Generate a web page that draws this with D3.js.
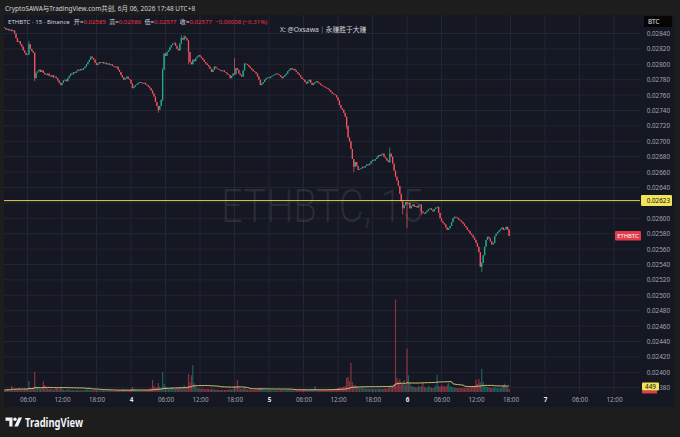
<!DOCTYPE html>
<html>
<head>
<meta charset="utf-8">
<script src="https://cdn.jsdelivr.net/npm/d3@7"></script>
<style>
html, body { margin: 0; padding: 0; background: #1d1d1d; }
svg { display: block; }
text { font-family: "Noto Sans", "Noto Sans CJK SC", sans-serif; }
</style>
</head>
<body>
<svg id="chart" width="680" height="437"></svg>
<script>
const svg = d3.select("#chart");
const width = 680;
const height = 437;

const panel = { L: 4, R: 674, T: 15, B: 407 };
const plot = { L: 4, R: 640, T: 15, B: 394 };

// ---- DATA ---- //

// 15m bars counted from 6月3日 00:00, first visible one is bar 8
const startTime = new Date(2026, 5, 3, 0, 0);
const endTime = new Date(2026, 5, 7, 0, 0);
const firstBar = 8;
const firstOpen = 2848;

// closes in units of 0.00001 BTC
const closes = [
    2847,2845,2846,2844,2845,2843,2844,2840,2834,2829,2830,2826,2823,2818,2815,2812,
    2813,2826,2820,2817,2815,2782,2789,2791,2793,2790,2792,2789,2787,2786,2788,2785,
    2784,2786,2783,2784,2782,2779,2776,2773,2776,2779,2780,2778,2782,2785,2788,2787,
    2790,2789,2791,2793,2792,2794,2793,2795,2797,2800,2803,2806,2810,2808,2806,2802,
    2799,2801,2803,2802,2803,2801,2802,2800,2801,2799,2800,2798,2797,2796,2797,2793,
    2790,2786,2783,2780,2782,2784,2781,2780,2775,2769,2771,2773,2774,2776,2777,2776,
    2775,2776,2774,2773,2771,2769,2766,2762,2758,2751,2746,2741,2746,2754,2793,2814,
    2811,2816,2818,2822,2825,2827,2828,2824,2820,2818,2827,2834,2832,2836,2834,2831,
    2816,2803,2800,2806,2804,2808,2810,2812,2810,2808,2806,2803,2801,2799,2797,2794,
    2790,2793,2797,2795,2794,2793,2792,2791,2792,2790,2789,2787,2786,2782,2785,2788,
    2787,2795,2793,2788,2786,2784,2792,2801,2800,2799,2797,2795,2793,2791,2790,2788,
    2784,2780,2773,2775,2777,2780,2782,2783,2782,2784,2785,2786,2787,2788,2787,2786,
    2784,2782,2784,2786,2788,2791,2793,2795,2793,2794,2792,2790,2788,2786,2783,2781,
    2780,2777,2775,2778,2780,2776,2773,2775,2777,2778,2776,2775,2773,2772,2771,2770,
    2769,2768,2766,2764,2762,2761,2760,2757,2753,2747,2743,2741,2737,2732,2720,2705,
    2700,2690,2677,2667,2673,2668,2663,2664,2665,2667,2666,2668,2670,2669,2671,2674,
    2676,2675,2677,2679,2682,2681,2683,2684,2680,2678,2675,2673,2684,2680,2671,2662,
    2654,2649,2642,2632,2622,2613,2617,2621,2619,2620,2613,2616,2618,2615,2616,2614,
    2617,2618,2609,2607,2606,2608,2610,2612,2613,2611,2609,2612,2614,2615,2607,2600,
    2596,2594,2592,2588,2585,2587,2590,2595,2600,2602,2601,2600,2598,2597,2595,2593,
    2590,2588,2585,2583,2580,2578,2575,2572,2568,2563,2556,2537,2542,2552,2563,2572,
    2576,2574,2570,2566,2568,2577,2580,2582,2584,2586,2588,2585,2586,2589,2585,2577
];

// volume per bar (ETH)
const volumes = [
    320,280,410,350,260,900,380,450,520,390,610,480,350,420,560,470,
    510,1650,620,540,700,3000,820,640,560,480,690,1600,1000,720,580,450,
    520,430,380,460,610,540,390,800,460,350,280,330,410,370,290,260,
    310,240,280,350,220,260,300,240,330,380,420,350,300,270,240,310,
    280,230,260,210,250,290,230,200,260,240,280,220,190,250,230,270,
    300,260,340,410,280,360,320,290,380,750,420,350,300,270,240,290,
    260,310,280,340,380,420,560,1800,900,640,720,1350,800,560,3000,1200,
    860,640,580,520,700,610,540,480,620,560,730,680,590,1000,720,640,
    2700,1400,2500,4000,1300,820,640,560,510,480,530,460,420,500,440,390,
    520,460,380,350,410,330,300,360,280,320,350,290,380,420,360,450,
    900,620,1800,740,520,480,560,640,480,400,360,420,330,300,380,350,
    420,510,620,480,400,350,320,290,310,260,280,240,300,270,250,230,
    280,310,260,240,290,330,360,300,270,250,310,280,340,300,360,320,
    380,420,350,310,380,440,400,350,900,420,360,320,300,340,380,350,
    330,370,410,380,450,420,480,520,610,700,660,740,820,900,2100,2250,
    1600,4350,1500,1000,1050,820,760,640,580,700,620,540,500,560,480,520,
    460,500,440,480,520,560,490,450,520,600,480,640,900,760,820,1200,
    13800,2100,1600,1950,1400,1200,1800,1100,6450,2500,1300,900,820,760,700,680,
    900,720,860,1400,760,680,620,900,700,640,580,720,1000,2550,880,760,
    1050,820,900,760,1100,1400,880,760,700,640,620,580,560,600,540,620,
    580,660,620,700,680,740,820,900,1800,1200,1950,1400,3450,1500,960,820,
    760,700,640,600,680,720,560,620,540,600,700,1050,1250,820,640,449
];

// [bar, high, low] for the bars with visible wicks
const wicks = [
    [25, 2830, 2812], [29, 2815, 2778], [115, 2746, 2737], [118, 2795, 2752],
    [131, 2838, 2826], [133, 2838, 2831], [136, 2831, 2800], [168, 2808, 2786],
    [246, 2732, 2716], [251, 2677, 2660], [276, 2692, 2672], [285, 2622, 2605],
    [288, 2621, 2587], [298, 2618, 2604], [340, 2543, 2530], [359, 2586, 2577]
];

const priceTicks = [
    0.0284, 0.0282, 0.0280, 0.0278, 0.0276, 0.0274, 0.0272, 0.0270, 0.0268, 0.0266,
    0.0264, 0.0262, 0.0260, 0.0258, 0.0256, 0.0254, 0.0252, 0.0250, 0.0248, 0.0246,
    0.0244, 0.0242, 0.0240, 0.0238
];
const alertPrice = 0.02623;
const maLength = 40;

const bars = closes.map((c, k) => {
    const i = firstBar + k;
    const open = k === 0 ? firstOpen : closes[k - 1];
    const w = wicks.find(d => d[0] === i);
    let hi = Math.max(open, c), lo = Math.min(open, c);
    if (w) { hi = Math.max(hi, w[1]); lo = Math.min(lo, w[2]); }
    return {
        "Date": d3.timeMinute.offset(startTime, i * 15),
        "Open": open / 1e5, "High": hi / 1e5, "Low": lo / 1e5, "Close": c / 1e5,
        "Volume": volumes[k]
    };
});
bars.forEach((b, k) => {
    const win = bars.slice(Math.max(0, k - maLength + 1), k + 1);
    b.MA = d3.mean(win, d => d.Volume);
});

// ---- COLOURS ---- //
const up = "#22ab94";
const down = "#f7525f";
const axisText = "#a3a6af";
const grid = "#222533";

// ---- FRAME ---- //
svg.append("rect").attr("width", width).attr("height", height).attr("fill", "#1d1d1d");
svg.append("rect")
    .attr("x", panel.L).attr("y", panel.T)
    .attr("width", panel.R - panel.L).attr("height", panel.B - panel.T)
    .attr("fill", "#151722");

// ---- SCALES ---- //
const xScale = d3.scaleTime().domain([startTime, endTime]).range([-7, 545]);
const yScale = d3.scaleLinear().domain([0.0284, 0.0238]).range([33.5, 387.7]);
const vScale = d3.scaleLinear().domain([0, 14000]).range([392, 298]);

const timeTicks = d3.timeHour.every(6).range(startTime, d3.timeDay.offset(endTime, 1))
    .filter(d => xScale(d) > plot.L && xScale(d) < plot.R);

// ---- GRID ---- //
svg.append("g").selectAll("line").data(timeTicks).join("line")
    .attr("x1", d => xScale(d)).attr("x2", d => xScale(d))
    .attr("y1", plot.T).attr("y2", plot.B)
    .attr("stroke", grid).attr("stroke-width", 1);
svg.append("g").selectAll("line").data(priceTicks).join("line")
    .attr("x1", plot.L).attr("x2", plot.R)
    .attr("y1", d => yScale(d)).attr("y2", d => yScale(d))
    .attr("stroke", grid).attr("stroke-width", 1);

// ---- WATERMARK ---- //
svg.append("text")
    .attr("x", 221).attr("y", 222)
    .attr("font-size", 46).attr("font-weight", 300)
    .attr("textLength", 202).attr("lengthAdjust", "spacingAndGlyphs")
    .attr("fill", "rgba(255,255,255,0.09)")
    .style("font-family", "Roboto, 'Noto Sans', sans-serif")
    .text("ETHBTC, 15");

svg.append("clipPath").attr("id", "clip")
    .append("rect").attr("x", plot.L).attr("y", plot.T)
    .attr("width", plot.R - plot.L).attr("height", plot.B - plot.T);

const main = svg.append("g").attr("clip-path", "url(#clip)");

// ---- VOLUME ---- //
main.append("g").selectAll("rect").data(bars).join("rect")
    .attr("x", d => xScale(d.Date) - 0.6)
    .attr("width", 1.2)
    .attr("y", d => vScale(d.Volume))
    .attr("height", d => vScale(0) - vScale(d.Volume))
    .attr("fill", d => d.Close >= d.Open ? up : down)
    .attr("fill-opacity", 0.5);

const maLine = d3.line().x(d => xScale(d.Date)).y(d => vScale(d.MA));
main.append("path").datum(bars)
    .attr("d", maLine)
    .attr("fill", "none").attr("stroke", "#e6d27a").attr("stroke-width", 0.9);

// ---- ALERT LINE ---- //
svg.append("line")
    .attr("x1", plot.L).attr("x2", plot.R)
    .attr("y1", yScale(alertPrice)).attr("y2", yScale(alertPrice))
    .attr("stroke", "#dccf55").attr("stroke-width", 1);

// ---- CANDLES ---- //
const candles = main.append("g").selectAll("g").data(bars).join("g")
    .attr("stroke", d => d.Close >= d.Open ? up : down)
    .attr("fill", d => d.Close >= d.Open ? up : down);
candles.append("line")
    .attr("x1", d => xScale(d.Date)).attr("x2", d => xScale(d.Date))
    .attr("y1", d => yScale(d.High)).attr("y2", d => yScale(d.Low))
    .attr("stroke-width", 0.7);
candles.append("rect")
    .attr("stroke", "none")
    .attr("x", d => xScale(d.Date) - 0.65)
    .attr("width", 1.3)
    .attr("y", d => yScale(Math.max(d.Open, d.Close)))
    .attr("height", d => Math.max(0.8, Math.abs(yScale(d.Open) - yScale(d.Close))));

// ---- AXES ---- //
const fmtDay = d3.timeFormat("%-d");
const fmtHour = d3.timeFormat("%H:%M");
const xAxis = d3.axisBottom(xScale)
    .tickValues(timeTicks)
    .tickSize(0).tickPadding(4)
    .tickFormat(d => d.getHours() === 0 ? fmtDay(d) : fmtHour(d));
svg.append("g")
    .attr("transform", `translate(0, ${plot.B})`)
    .call(xAxis)
    .call(g => g.select(".domain").remove())
    .selectAll("text")
        .attr("font-size", 6.3)
        .attr("font-family", "'Noto Sans', sans-serif")
        .attr("fill", d => d.getHours() === 0 ? "#e8e9ee" : axisText)
        .attr("font-weight", d => d.getHours() === 0 ? 700 : 400);

const yAxis = d3.axisRight(yScale)
    .tickValues(priceTicks.filter(p => p !== 0.0262))
    .tickSize(0).tickPadding(0)
    .tickFormat(d3.format(".5f"));
svg.append("g")
    .attr("transform", "translate(670, 0)")
    .call(yAxis)
    .call(g => g.select(".domain").remove())
    .selectAll("text")
        .attr("x", 0)
        .attr("text-anchor", "end")
        .attr("font-size", 6.3)
        .attr("font-family", "'Noto Sans', sans-serif")
        .attr("fill", axisText);

// ---- LABELS ON THE PRICE SCALE ---- //
const last = bars[bars.length - 1];
const prev = bars[bars.length - 2];

svg.append("rect").attr("x", 644).attr("y", 16).attr("width", 28).attr("height", 11)
    .attr("fill", "#050506");
svg.append("text").attr("x", 648).attr("y", 24).attr("font-size", 6.3)
    .attr("fill", "#e8e9ee").text("BTC");

svg.append("rect").attr("x", 641).attr("y", yScale(alertPrice) - 5.5)
    .attr("width", 31).attr("height", 11).attr("rx", 1).attr("fill", "#f2e35c");
svg.append("text").attr("x", 670).attr("y", yScale(alertPrice) + 2.3)
    .attr("text-anchor", "end").attr("font-size", 6.3).attr("fill", "#111")
    .text(d3.format(".5f")(alertPrice));

svg.append("rect").attr("x", 615).attr("y", yScale(last.Close) - 5)
    .attr("width", 26).attr("height", 9.5).attr("rx", 1).attr("fill", "#e23b4c");
svg.append("text").attr("x", 628).attr("y", yScale(last.Close) + 2)
    .attr("text-anchor", "middle").attr("font-size", 5.8).attr("fill", "#fff")
    .text("ETHBTC");

svg.append("rect").attr("x", 642).attr("y", vScale(last.Volume) + 1.5)
    .attr("width", 15).attr("height", 3).attr("fill", "#e23b4c");
svg.append("rect").attr("x", 642).attr("y", vScale(last.Volume) - 6.5)
    .attr("width", 17).attr("height", 8).attr("rx", 1).attr("fill", "#f2e35c");
svg.append("text").attr("x", 650.5).attr("y", vScale(last.Volume) - 0.2)
    .attr("text-anchor", "middle").attr("font-size", 6.3).attr("fill", "#111")
    .text(last.Volume);

// ---- HEADER ---- //
svg.append("text").attr("x", 5).attr("y", 10.5)
    .attr("font-size", 6.5).attr("fill", "#d1d4dc")
    .text("CryptoSAWA与TradingView.com共创, 6月 06, 2026 17:48 UTC+8");

const f5 = d3.format(".5f");
const legendItems = [["开", last.Open], ["高", last.High], ["低", last.Low], ["收", last.Close]];
const change = last.Close - prev.Close;
const head = svg.append("text").attr("x", 8).attr("y", 23.5)
    .attr("font-size", 6.1).attr("fill", "#d1d4dc");
head.append("tspan").text("ETHBTC · 15 · Binance");
legendItems.forEach(([k, v], n) => {
    head.append("tspan").attr("dx", n === 0 ? 4 : 3.2).text(k + "=");
    head.append("tspan").attr("fill", "#f23645").text(f5(v));
});
head.append("tspan").attr("dx", 3.2).attr("fill", "#f23645")
    .text(`${f5(change).replace("-", "−")} (${d3.format(".2f")(change / prev.Close * 100).replace("-", "−")}%)`);

svg.append("text").attr("x", 280).attr("y", 32)
    .attr("font-size", 6.8).attr("fill", "#d1d4dc")
    .text("X: @Oxsawa｜永赚胜于大赚");

// ---- FOOTER LOGO ---- //
const logo = svg.append("g").attr("fill", "#f0f3fa");
logo.append("path").attr("d", "M5.5,417.5 h7 v9 h-3.2 v-5.8 h-3.8 z");
logo.append("circle").attr("cx", 15).attr("cy", 419.2).attr("r", 1.7);
logo.append("path").attr("d", "M18.5,417.5 h3.6 l-4.2,9 h-3.6 z");
svg.append("text").attr("x", 25).attr("y", 426.5)
    .attr("font-size", 11.5).attr("font-weight", 700)
    .attr("textLength", 58).attr("lengthAdjust", "spacingAndGlyphs")
    .attr("fill", "#f0f3fa")
    .text("TradingView");
</script>
</body>
</html>
